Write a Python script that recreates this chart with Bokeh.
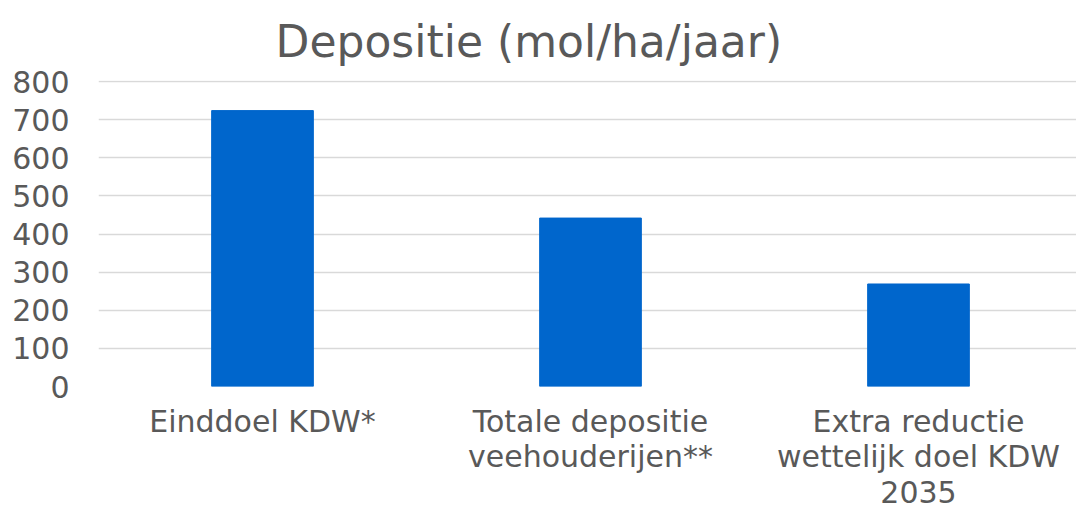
from bokeh.plotting import figure
from bokeh.models import Range1d, FixedTicker, Title
from bokeh.embed import file_html
from bokeh.resources import INLINE

categories = ["Einddoel KDW*", "Totale depositie\nveehouderijen**", "Extra reductie\nwettelijk doel KDW\n2035"]
values = [724, 442, 269]
y_ticks = [0, 100, 200, 300, 400, 500, 600, 700, 800]

FONT = "DejaVu Sans"
TXT = "#595959"

xs = list(range(len(categories)))

p = figure(width=1076, height=512, output_backend="svg", toolbar_location=None,
           x_range=Range1d(-0.5, 2.4817), y_range=Range1d(0, 803),
           min_border_left=98, min_border_right=0, min_border_top=79, min_border_bottom=126)

p.add_layout(Title(text="Depositie (mol/ha/jaar)", align="left", text_font=FONT,
                   text_font_size="44px", text_color=TXT, text_font_style="normal",
                   offset=177, standoff=27), "above")

p.vbar(x=xs, top=values, width=0.31, color="#0066CC")

p.outline_line_color = None
p.xgrid.grid_line_color = None
p.ygrid.grid_line_color = "#d9d9d9"
p.ygrid.grid_line_width = 1.5

p.yaxis.ticker = FixedTicker(ticks=y_ticks)
p.yaxis.axis_line_color = None
p.yaxis.major_tick_line_color = None
p.yaxis.minor_tick_line_color = None
p.yaxis.major_label_text_font = FONT
p.yaxis.major_label_text_font_size = "30px"
p.yaxis.major_label_text_color = TXT
p.yaxis.major_label_standoff = 23

p.xaxis.ticker = FixedTicker(ticks=xs)
p.xaxis.major_label_overrides = {i: c for i, c in zip(xs, categories)}
p.xaxis.axis_line_color = None
p.xaxis.major_tick_line_color = None
p.xaxis.minor_tick_line_color = None
p.xaxis.major_label_text_font = FONT
p.xaxis.major_label_text_font_size = "30px"
p.xaxis.major_label_text_color = TXT
p.xaxis.major_label_standoff = 11
p.xaxis.major_label_text_line_height = 1.02

open("out.html", "w").write(file_html(p, INLINE))
